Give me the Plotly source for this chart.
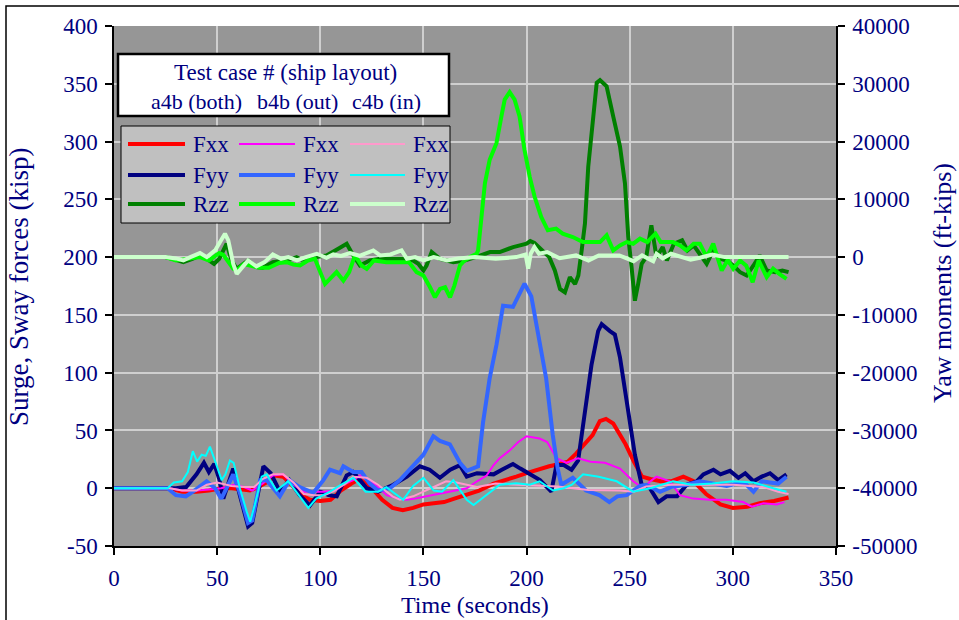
import plotly.graph_objects as go

# ---------------------------------------------------------------------------
# Time histories (time in s, forces in kips, yaw moment in ft-kips)
# ---------------------------------------------------------------------------
a4b_fxx = [(0, 0), (27, 0), (33, -3), (40, -3), (46, -2), (52, 0), (57, 0), (62, -1), (66, -2),
           (70, 1), (74, 5), (78, 11), (82, 10), (86, 3), (90, -5), (95, -10), (100, -11),
           (105, -10), (110, -2), (116, 5), (119, 8), (125, 0), (130, -10), (135, -17),
           (140, -19), (145, -17), (150, -14), (155, -13), (160, -12), (165, -9), (170, -6),
           (177, -2), (184, 4), (190, 7), (195, 10), (200, 13), (205, 16), (211, 19), (216, 21),
           (220, 23), (224, 30), (228, 38), (232, 46), (235.5, 58), (238.5, 60), (242, 56),
           (245, 47), (248, 38), (252, 23), (256, 10), (260, 8), (265, 6), (270, 6), (276, 10),
           (281, 6), (287, -5), (294, -14), (300, -17), (307, -16), (313, -13), (320, -11),
           (327, -8)]

a4b_fyy = [(0, 0), (26, 0), (30, 0), (35, 1), (40, 12), (43.6, 22), (46, 14), (48.6, 21), (51, 8),
           (53, -9), (57.8, 17), (61, -6), (65, -33), (67, -30), (69, -12), (72.4, 19), (76, 13),
           (80.4, -3), (85, 7), (90, -6), (95, -15), (100, -3), (104, -6), (108, -7), (112.8, 11),
           (116, 14), (122.5, 0), (128, -3), (135.4, 3), (142, 10), (148.3, 19), (153, 16),
           (158, 9), (163, 16), (167.7, 20), (171, 10), (176, 13), (184, 12), (188, 16),
           (193.4, 21), (197, 17), (201, 13), (206.5, 7), (212, -3), (214.5, 20), (218, 20),
           (221.8, 16), (225, 24), (228.3, 64), (231.5, 107), (234.7, 136), (236.4, 142),
           (240.4, 136), (242.8, 133), (245.3, 113), (248.5, 73), (252.5, 29), (255.8, 3),
           (259.8, 0), (263.9, -12), (267.9, -7), (273, -7), (277.6, 3), (282.5, 6), (285.7, 12),
           (290.6, 16), (294, 12), (298.6, 15), (302.7, 9), (306, 13), (310, 6), (314, 10),
           (318, 13), (322, 7), (326, 12)]

a4b_rzz = [(0, 0), (25, 0), (30, -460), (33.6, -870), (38, -290), (41.7, 290), (45, -300),
           (48.5, -1160), (51, -290), (53, 1160), (54.6, 2320), (57, -580), (59.5, -2030),
           (62.7, -1160), (65, -580), (69, -1740), (72, -1860), (77, -870), (81, -580),
           (85, -460), (88.5, 0), (91, -460), (96, -120), (103, 290), (108.7, 1450),
           (112.8, 2320), (116, 290), (119.2, -1450), (124, -580), (129, -290), (135, -290),
           (141, -290), (145, -580), (147.5, -1160), (150, -2320), (151.5, -1450), (154, 870),
           (158, -300), (164.5, -870), (170, -580), (176, 100), (182.3, 870), (187, 870),
           (193.5, 1740), (200, 2320), (201.8, 2780), (203.8, 2440), (207.3, 1160), (211, 0),
           (213.7, -2320), (216.2, -5510), (218.6, -6090), (221, -3480), (223.5, -4640),
           (225.1, -3190), (226.7, 1160), (228.3, 5800), (229.9, 15660), (232.4, 24360),
           (234, 30160), (235.6, 30620), (238.8, 29580), (242, 24360), (245.3, 19140),
           (247.7, 12760), (249.3, 3480), (250.9, -1740), (252.5, -7540), (254.1, -4640),
           (255.8, -1160), (258, 0), (260.5, 5510), (263, 0), (266, 1740), (268, -580),
           (271.4, 2320), (275.4, 2900), (278, 1160), (281, 2030), (284, 580), (287.3, -1160),
           (290.5, 1160), (293.8, -290), (297, -580), (300.2, -1450), (303.5, -2610),
           (306.7, -3190), (310, -1450), (313, 290), (316.4, -2320), (320.6, -2610),
           (324, -2320), (327, -2610)]

b4b_fxx = [(0, 0), (27, 0), (33, -2), (40, -2), (46, -1), (52, 0), (58, 3), (63, 1), (67, -2),
           (72, 4), (77, 11), (82, 12), (87, 3), (92, -3), (97, -3), (102, -3), (107, -2),
           (112, 4), (116, 7), (119.3, 11), (124, 6), (128, 1), (132.2, -6), (138, -9),
           (141.8, -10), (146, -9), (151.5, -7), (157, -5), (164, -3), (171, 0), (176, 6),
           (180.6, 11), (184, 20), (187, 26), (192, 33), (196, 40), (200, 45), (206.3, 43),
           (210, 40), (214.5, 26), (219.4, 22), (225, 26), (231, 23), (238, 22), (245.3, 17),
           (251.7, 6), (256.5, 0), (260, 6), (263, 10), (269.5, 6), (274.3, -6), (280.8, -9),
           (288.9, -10), (297, -10), (305, -12), (309.2, -16), (314.8, -13), (321.3, -14),
           (325, -12)]

b4b_fyy = [(0, 0), (26, 0), (30, -6), (34.8, -7), (39, -2), (44.9, 6), (49, 0), (52, -9),
           (54.6, 0), (57.8, 12), (61, -4), (65, -30), (67, -28), (70.8, 7), (74, 7),
           (80.4, -7), (85, 7), (90, 1), (96.6, -4), (101.5, 7), (104.7, 16), (109.6, 13),
           (111.2, 19), (116, 14), (120, 14), (124, 4), (128, -2), (133.8, 0), (138.6, 7),
           (145, 19), (150, 29), (154.8, 45), (158, 41), (162.8, 38), (167.7, 22), (171, 15),
           (174, 17), (176.5, 19), (178.9, 57), (182.1, 95), (185.4, 124), (188.6, 158),
           (193.4, 157), (195.8, 166), (199, 177), (202.3, 166), (206.3, 126), (209.5, 95),
           (212.7, 46), (215.1, 17), (216.8, 3), (222.4, 9), (228.8, -2), (235.3, -6),
           (240.1, -12), (244, -7), (248.5, -6), (255, 2), (258, 3), (264.7, -3), (270, 1),
           (277.6, 3), (284, 6), (292, 4), (297, 2), (302, 4), (306, 4), (310, -3), (314, 6),
           (318, 5), (322, 4), (326, 10)]

b4b_rzz = [(0, 0), (25, 0), (30, -580), (36, -200), (41.7, 0), (46, -580), (51, 700), (53, 400),
           (55.4, -900), (57.8, -2000), (59.5, -2320), (63, -1200), (66, -1450), (70.6, -1860),
           (75, -1860), (80, -1000), (83.7, -870), (87, -1300), (90.2, -1450), (94, -600),
           (97.4, -290), (99.9, -2320), (102.3, -4640), (104.7, -3770), (107.9, -2600),
           (111.2, -4060), (114, -2600), (116.8, 290), (120, -1450), (122.5, -2030),
           (126, -580), (132, -870), (138, -870), (143, -900), (146.7, -2600), (150, -3190),
           (153.2, -5220), (155.6, -6960), (158, -5510), (160.5, -5220), (162.9, -6960),
           (165, -4930), (167.7, -1450), (170, -580), (172.5, 0), (175.8, 580), (176.5, 1160),
           (178.2, 7540), (179.8, 12760), (182.1, 16820), (185.4, 19720), (187.8, 24360),
           (189.4, 27260), (191.8, 28540), (194.2, 27260), (196.6, 24360), (199, 18560),
           (201.5, 13920), (203.9, 10440), (207.1, 6960), (210.3, 4640), (214.3, 4930),
           (217.5, 4060), (222.4, 3480), (227.3, 2610), (232.4, 2610), (235.6, 2610),
           (238.8, 3770), (242, 1160), (245.3, 2030), (248.5, 2610), (251.7, 2320),
           (255, 3190), (258.5, 2600), (262.5, 4060), (265, 2610), (268, 2600), (271, 2600),
           (274.4, 2030), (277.5, 1160), (281, 2320), (284, 2320), (287.3, 0), (290.5, 2320),
           (292.5, 0), (294.6, -2320), (297.5, -500), (300.2, -2030), (303.5, -600),
           (306.5, -1500), (309.6, -4350), (312.5, -580), (316.4, -3480), (319.5, -2000),
           (322.5, -2900), (326, -3770)]

c4b_fxx = [(0, 0), (27, 0), (33, -2), (40, -2), (45, 3), (50, 5), (57, 2), (63, 1), (68, 1),
           (72, 8), (77, 12), (82, 12), (87, 5), (92, -5), (97, -6), (102, -6), (107, -2),
           (112, 4), (116, 10), (122.5, 9), (128, 3), (135, -7), (138.6, -10), (145, -7),
           (150, -3), (155, 1), (161, 6), (166, 5), (171, 3), (176, 1), (185, 4), (200, 3),
           (215, 1.5), (230, -1.5), (245, -2), (252, -3), (258, 1.5), (270, 3), (285, 3),
           (300, 3), (315, 1), (322, -3), (327, -5)]

c4b_fyy = [(0, 0), (26, 0), (29, 5), (33, 6), (35.8, 14), (38.2, 32), (40.3, 23), (42.5, 29),
           (44.5, 28), (46.5, 36), (48.9, 24), (52.2, 7), (54, 12), (56.2, 24), (58, 22),
           (61, 0), (64.3, -20), (66, -29), (68.3, -14), (71.6, 10), (74, 12), (78.8, -2),
           (84.5, 6), (90, -7), (94.2, -17), (98, -9), (104.7, -3), (110, 3), (116, 9),
           (122, -3), (128, -3), (132, 1), (136, -4), (140.2, -10), (145, 2), (150, 9),
           (155, -2), (159, -3), (164.5, 7), (171, -10), (174.3, -14.5), (180.6, -6),
           (187, 3), (195, 4.4), (201.5, 3), (206.3, 6), (212.8, -2), (218, 0), (222, 3),
           (227.4, 12), (235, 10), (243.7, 6), (251.7, -3), (260, 0), (271, 6), (280, 3),
           (290, 4), (300, 6), (310, 5), (319.6, 0), (326, -3)]

c4b_rzz = [(0, 0), (25, 0), (30, -230), (33.6, -580), (37, 0), (41.7, 700), (45, 0), (49, 1160),
           (51.4, 2600), (53.8, 4060), (55.4, 2900), (57.8, -1160), (59.5, -2900),
           (62.7, -1450), (65, -580), (69, -1600), (73, -870), (77, 460), (81, -290),
           (84.5, 0), (88.7, -580), (93, 0), (98.3, 580), (103, -116), (106.3, 460), (110, 200),
           (114.4, 700), (119, 230), (125.7, 1160), (129, 300), (134, 460), (139.4, 1160),
           (142, -290), (146, 0), (150, -580), (155, 0), (161.4, -580), (167, -230), (175, 0),
           (185, -290), (195, 0), (199.5, 460), (200.8, -2000), (202, 580), (203.8, 1740),
           (206, 580), (210, 870), (216, -200), (224, 290), (230, -580), (235, 300), (245, 290),
           (251.9, -700), (256, 290), (261.4, -700), (263, 580), (266, -200), (270, 580),
           (275, 0), (279.5, -460), (284, -100), (290, 460), (296, 0), (300, 0), (327, 0)]

# axis ticks
x_ticks = [0, 50, 100, 150, 200, 250, 300, 350]
y_ticks = [-50, 0, 50, 100, 150, 200, 250, 300, 350, 400]
y2_ticks = [-50000, -40000, -30000, -20000, -10000, 0, 10000, 20000, 30000, 40000]

# legend table
cases = ["a4b (both)", "b4b (out)", "c4b (in)"]
quantities = ["Fxx", "Fyy", "Rzz"]

# ---------------------------------------------------------------------------
W, H = 959, 620
ML, MR, MT, MB = 114, 123, 26, 74
PW, PH = W - ML - MR, H - MT - MB
NAVY = "#000080"
FONT = "Liberation Serif, Times New Roman, serif"


def fx(px):
    return (px - ML) / PW


def fy(py):
    return (H - MB - py) / PH


def label(text, x, y, size=22, angle=0, xanchor="center"):
    return dict(text=text, xref="paper", yref="paper", x=fx(x), y=fy(y),
                xanchor=xanchor, yanchor="middle", showarrow=False, textangle=angle,
                font=dict(family=FONT, size=size, color=NAVY))


series = [
    # data, colour, width, axis, legend row, legend column
    (a4b_fxx, "#FF0000", 4, "y", 0, 0),
    (a4b_fyy, "#000080", 4, "y", 1, 0),
    (b4b_fxx, "#FF00FF", 2, "y", 0, 1),
    (b4b_fyy, "#3366FF", 4, "y", 1, 1),
    (c4b_fxx, "#FF99CC", 2, "y", 0, 2),
    (c4b_fyy, "#00FFFF", 2, "y", 1, 2),
    (a4b_rzz, "#008000", 4, "y2", 2, 0),
    (b4b_rzz, "#00FF00", 4, "y2", 2, 1),
    (c4b_rzz, "#CCFFCC", 4, "y2", 2, 2),
]

fig = go.Figure()
for data, color, width, axis, row, col in series:
    fig.add_trace(go.Scatter(
        x=[p[0] for p in data], y=[p[1] for p in data],
        mode="lines", yaxis=axis,
        line=dict(color=color, width=width),
        name=f"{quantities[row]} {cases[col]}",
        showlegend=False, hoverinfo="skip",
    ))

tickfont = dict(family=FONT, size=23, color=NAVY)
axis_common = dict(
    showline=True, linecolor="black", linewidth=1.5,
    ticks="outside", ticklen=7, tickcolor="black", tickwidth=1.5,
    tickfont=tickfont, zeroline=False,
)

fig.update_layout(
    width=W, height=H,
    margin=dict(l=ML, r=MR, t=MT, b=MB, pad=0),
    paper_bgcolor="white", plot_bgcolor="#969696",
    xaxis=dict(range=[0, 350], tickvals=x_ticks, ticktext=[str(v) for v in x_ticks],
               showgrid=True, gridcolor="#CFCFCF", gridwidth=1.5,
               ticklabelstandoff=4, **axis_common),
    yaxis=dict(range=[-50, 400], tickvals=y_ticks, ticktext=[str(v) for v in y_ticks],
               showgrid=True, gridcolor="#CFCFCF", gridwidth=1.5,
               ticklabelstandoff=3, **axis_common),
    yaxis2=dict(range=[-50000, 40000], tickvals=y2_ticks, ticktext=[str(v) for v in y2_ticks],
                overlaying="y", side="right", showgrid=False,
                ticklabelstandoff=3, **axis_common),
)

shapes = []
annotations = []

# outer frame of the chart
shapes.append(dict(type="rect", xref="paper", yref="paper",
                   x0=fx(6), x1=fx(990), y0=fy(650), y1=fy(6),
                   line=dict(color="black", width=1.5), fillcolor="rgba(0,0,0,0)", layer="above"))

# header box with test-case names
shapes.append(dict(type="rect", xref="paper", yref="paper",
                   x0=fx(118), x1=fx(449), y0=fy(116), y1=fy(54),
                   line=dict(color="black", width=2.5), fillcolor="white", layer="above"))
annotations.append(label("Test case # (ship layout)", 285.5, 72, size=23))
for case, cx in zip(cases, [196, 297, 386]):
    annotations.append(label(case, cx, 101))

# key box
shapes.append(dict(type="rect", xref="paper", yref="paper",
                   x0=fx(121), x1=fx(450), y0=fy(223), y1=fy(126),
                   line=dict(color="black", width=1), fillcolor="#C0C0C0", layer="above"))
row_y = [144, 175, 204]
col_line = [(128, 185), (239, 295), (350, 405)]
col_text = [191, 301, 411]
for data, color, width, axis, row, col in series:
    x0, x1 = col_line[col]
    shapes.append(dict(type="line", xref="paper", yref="paper",
                       x0=fx(x0), x1=fx(x1), y0=fy(row_y[row]), y1=fy(row_y[row]),
                       line=dict(color=color, width=width), layer="above"))
    annotations.append(label(quantities[row], col_text[col], row_y[row], size=23,
                             xanchor="left"))

# axis titles
annotations.append(label("Time (seconds)", 475, 605, size=24))
annotations.append(label("Surge, Sway forces (kisp)", 19, 287, size=27, angle=-90))
annotations.append(label("Yaw moments (ft-kips)", 942, 283, size=26, angle=-90))

fig.update_layout(shapes=shapes, annotations=annotations)
fig.write_html("out.html")
